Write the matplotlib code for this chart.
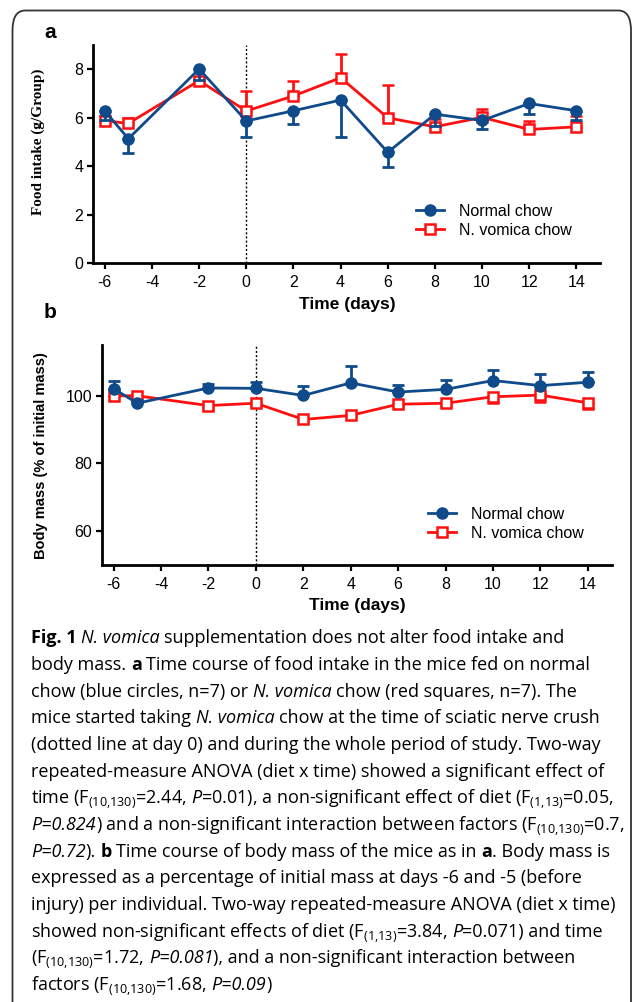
import matplotlib
matplotlib.use("Agg")
import matplotlib.pyplot as plt
from matplotlib.lines import Line2D
from matplotlib.patches import FancyBboxPatch

# ==============================
# Data
# ==============================
days = [-6, -5, -2, 0, 2, 4, 6, 8, 10, 12, 14]
day_ticks = [-6, -4, -2, 0, 2, 4, 6, 8, 10, 12, 14]

# panel a - food intake (g/Group)
food_normal = [6.27, 5.13, 8.0, 5.86, 6.28, 6.72, 4.57, 6.14, 5.88, 6.58, 6.28]
food_normal_sem = [0.35, 0.6, 0.45, 0.65, 0.56, 1.5, 0.61, 0.5, 0.37, 0.44, 0.38]
food_vomica = [5.87, 5.76, 7.52, 6.27, 6.89, 7.64, 5.99, 5.62, 6.01, 5.51, 5.62]
food_vomica_sem = [0.2, 0.24, 0.1, 0.82, 0.6, 0.99, 1.36, 0.31, 0.33, 0.33, 0.43]
food_ticks = [0, 2, 4, 6, 8]

# panel b - body mass (% of initial mass)
mass_normal = [102.1, 97.8, 102.3, 102.2, 100.1, 103.8, 101.1, 101.9, 104.5, 103.0, 104.0]
mass_normal_sem = [2.4, 1.0, 1.2, 2.0, 2.9, 5.1, 2.0, 2.8, 3.1, 3.5, 3.1]
mass_vomica = [100.0, 100.0, 97.1, 97.8, 93.0, 94.2, 97.5, 97.8, 99.7, 100.2, 97.9]
mass_vomica_sem = [0.2, 0.2, 0.9, 0.5, 0.6, 0.4, 0.5, 0.7, 1.8, 1.9, 1.8]
mass_ticks = [60, 80, 100]

labels = ["Normal chow", "N. vomica chow"]

BLUE = "#0f4a8a"
RED = "#ff1010"
SANS = "Liberation Sans"
CAP_FONT = "Open Sans"

# caption lines: (text, style) runs, style r / b / i
caption = [
    [("Fig. 1", "b"), (" N. vomica", "i"), (" supplementation does not alter food intake and", "r")],
    [("body mass.", "r"), (" a", "b"), (" Time course of food intake in the mice fed on normal", "r")],
    [("chow (blue circles, n=7) or", "r"), (" N. vomica", "i"), (" chow (red squares, n=7). The", "r")],
    [("mice started taking", "r"), (" N. vomica", "i"), (" chow at the time of sciatic nerve crush", "r")],
    [("(dotted line at day 0) and during the whole period of study. Two-way", "r")],
    [("repeated-measure ANOVA (diet x time) showed a significant effect of", "r")],
    [("time (F$_{(10{,}130)}$=2.44,", "r"), (" P", "i"), ("=0.01), a non-significant effect of diet (F$_{(1{,}13)}$=0.05,", "r")],
    [("P=0.824", "i"), (") and a non-significant interaction between factors (F$_{(10{,}130)}$=0.7,", "r")],
    [("P=0.72", "i"), (").", "r"), (" b", "b"), (" Time course of body mass of the mice as in", "r"), (" a", "b"), (". Body mass is", "r")],
    [("expressed as a percentage of initial mass at days -6 and -5 (before", "r")],
    [("injury) per individual. Two-way repeated-measure ANOVA (diet x time)", "r")],
    [("showed non-significant effects of diet (F$_{(1{,}13)}$=3.84,", "r"), (" P", "i"), ("=0.071) and time", "r")],
    [("(F$_{(10{,}130)}$=1.72,", "r"), (" P=0.081", "i"), ("), and a non-significant interaction between", "r")],
    [("factors (F$_{(10{,}130)}$=1.68,", "r"), (" P=0.09", "i"), (")", "r")],
]
# right end of each caption line in the reference (px)
caption_ends = [577, 591, 581, 603, 608, 603, 610, 620, 612, 576, 612, 601, 572, 266]

W, H = 633, 1002
plt.rcParams["axes.unicode_minus"] = False
plt.rcParams["mathtext.fontset"] = "custom"
plt.rcParams["mathtext.rm"] = CAP_FONT
plt.rcParams["mathtext.it"] = CAP_FONT + ":italic"
plt.rcParams["mathtext.bf"] = CAP_FONT + ":bold"

fig = plt.figure(figsize=(W / 100, H / 100), dpi=100)


def px_axes(left, top, right, bottom):
    return fig.add_axes([left / W, 1 - bottom / H, (right - left) / W, (bottom - top) / H])


def style_axes(ax):
    for s in ["top", "right"]:
        ax.spines[s].set_visible(False)
    for s in ["left", "bottom"]:
        ax.spines[s].set_linewidth(2.0)
    ax.tick_params(direction="out", length=4.5, width=1.6, labelsize=11.5, pad=2.5)
    ax.tick_params(axis="x", pad=4)
    for lab in ax.get_xticklabels() + ax.get_yticklabels():
        lab.set_family(SANS)
    ax.set_xlim(-6.5, 15)
    ax.set_xticks(day_ticks)
    ax.axvline(0, color="black", lw=1.0, ls=(0, (1.5, 1.5)), zorder=1)


def plot_panel(ax, normal, normal_err, vomica, vomica_err, normal_up):
    zero = [0] * len(days)
    if normal_up:
        n_err, v_err = [zero, normal_err], [vomica_err, zero]
    else:
        n_err, v_err = [normal_err, zero], [zero, vomica_err]
    ax.errorbar(days, vomica, yerr=v_err, color=RED, lw=2.0, marker="s", ms=7,
                mfc="white", mec=RED, mew=1.8, capsize=4.5, capthick=2.0,
                elinewidth=2.0, zorder=3)
    ax.errorbar(days, normal, yerr=n_err, color=BLUE, lw=2.0, marker="o", ms=8,
                mfc=BLUE, mec=BLUE, capsize=4.5, capthick=2.0, elinewidth=2.0, zorder=4)


def add_legend(ax, x, y):
    handles = [
        Line2D([], [], color=BLUE, lw=2.0, marker="o", ms=8, mfc=BLUE, mec=BLUE),
        Line2D([], [], color=RED, lw=2.0, marker="s", ms=7, mfc="white", mec=RED, mew=1.8),
    ]
    ax.legend(handles, labels, loc="upper left", bbox_to_anchor=(x / W, 1 - y / H),
              bbox_transform=fig.transFigure, frameon=False,
              prop={"family": SANS, "size": 11.5}, handlelength=1.75, handletextpad=0.95,
              borderpad=0, borderaxespad=0, labelspacing=0.25)


# ---- panel a ----
ax1 = px_axes(93, 44.7, 600, 263.3)
plot_panel(ax1, food_normal, food_normal_sem, food_vomica, food_vomica_sem, False)
ax1.set_ylim(0, 9)
ax1.set_yticks(food_ticks)
style_axes(ax1)
ax1.set_ylabel("Food intake (g/Group)", family="Liberation Serif", weight="bold", size=11)
ax1.yaxis.set_label_coords(45 / W, 1 - 142 / H, transform=fig.transFigure)
fig.text(347 / W, 1 - 305 / H, "Time (days)", family=SANS, weight="bold", size=12.5,
         ha="center", va="center")
add_legend(ax1, 416, 204)

# ---- panel b ----
ax2 = px_axes(101.7, 345, 611.6, 565)
plot_panel(ax2, mass_normal, mass_normal_sem, mass_vomica, mass_vomica_sem, True)
ax2.set_ylim(50, 115)
ax2.set_yticks(mass_ticks)
style_axes(ax2)
ax2.set_ylabel("Body mass (% of initial mass)", family=SANS, weight="bold", size=10.5)
ax2.yaxis.set_label_coords(47.5 / W, 1 - 456 / H, transform=fig.transFigure)
fig.text(357 / W, 1 - 605.7 / H, "Time (days)", family=SANS, weight="bold", size=12.5,
         ha="center", va="center")
add_legend(ax2, 428, 507)

# panel letters
fig.text(50 / W, 1 - 33 / H, "a", family=SANS, weight="bold", size=15, ha="center", va="center")
fig.text(50 / W, 1 - 312 / H, "b", family=SANS, weight="bold", size=15, ha="center", va="center")

# frame
frame = FancyBboxPatch((12.5 / W, -0.05), (631 - 12.5) / W, 1 - 10.5 / H + 0.05,
                       boxstyle="round,pad=0,rounding_size=0.02", transform=fig.transFigure,
                       fill=False, ec="#333333", lw=1.3)
fig.patches.append(frame)

# ==============================
# Caption
# ==============================
renderer = fig.canvas.get_renderer()
X0 = 31


def font_kw(style, size):
    kw = {"family": CAP_FONT, "size": size}
    if style == "b":
        kw["weight"] = "bold"
    if style == "i":
        kw["style"] = "italic"
    return kw


def space_width(style, size):
    a = fig.text(0, 0, "x x", **font_kw(style, size))
    b = fig.text(0, 0, "xx", **font_kw(style, size))
    w = a.get_window_extent(renderer).width - b.get_window_extent(renderer).width
    a.remove()
    b.remove()
    return w


def draw_line(runs, x0, y0, size):
    x = x0
    drawn = []
    for txt, style in runs:
        if txt.startswith(" "):
            x += space_width(style, size)
            txt = txt[1:]
        t = fig.text(x / W, 1 - y0 / H, txt, ha="left", va="baseline", **font_kw(style, size))
        drawn.append(t)
        x = t.get_window_extent(renderer).x1
    return x, drawn


# pick one caption font size so the lines span about the widths seen in the figure
base = 12
ratios = []
limits = []
for runs, end_ref in zip(caption, caption_ends):
    end, tmp = draw_line(runs, X0, 643.3, base)
    for t in tmp:
        t.remove()
    ratios.append((end_ref - X0) / (end - X0))
    limits.append((624 - X0) / (end - X0))
cap_size = base * min(sum(ratios) / len(ratios), min(limits))

for i, runs in enumerate(caption):
    draw_line(runs, X0, 643.3 + i * 26.67, cap_size)

fig.savefig("out.png", dpi=100)
